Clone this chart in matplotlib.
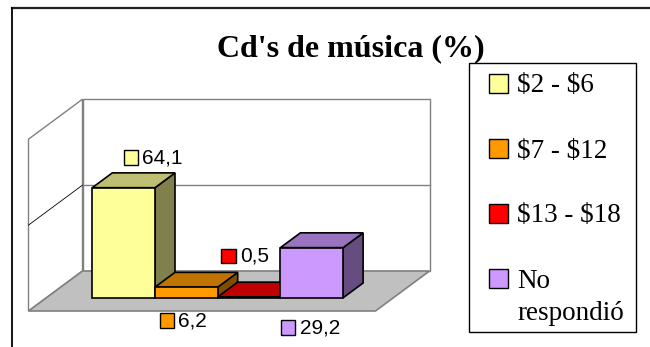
import matplotlib
matplotlib.use("Agg")
import matplotlib.pyplot as plt
from matplotlib.patches import Polygon, Rectangle
from matplotlib.lines import Line2D
from matplotlib.offsetbox import AnnotationBbox, DrawingArea, TextArea, HPacker
from matplotlib.colors import to_rgb

# Cd's de música: precio que pagarían (%)
series = ["$2 - $6", "$7 - $12", "$13 - $18", "No\nrespondió"]
values = [64.1, 6.2, 0.5, 29.2]
value_labels = ["64,1", "6,2", "0,5", "29,2"]
colors = ["#FFFF99", "#FF9900", "#FF0000", "#CC99FF"]
gridlines = [50]
y_max = 100

W_PX, H_PX, DPI = 650, 347, 100

# oblique 3d look: pixels per bar width / per percent, floor depth
PX_X = 62.7
PX_Y = 1.718
GAP = 46 / PX_X
FLOOR_W = 347 / PX_X
DX = 54 / PX_X
DY = 40 / PX_Y
F0, F1 = 0.33, 0.70

# label offsets from the bar top (pixels, right / down)
label_offsets = [(29.5, -30), (-3, 33.4), (-3.7, -41), (-1.4, 80)]


def fx(px):
    return px / W_PX


def fy(py):
    return 1 - py / H_PX


def shade(c, k):
    r, g, b = to_rgb(c)
    return (r * k, g * k, b * k)


fig = plt.figure(figsize=(W_PX / DPI, H_PX / DPI), dpi=DPI)
fig.patch.set_facecolor("white")

# outer chart frame (cut at right and bottom)
fig.add_artist(Line2D([fx(11.5), 1], [fy(8), fy(8)], color="#222222", lw=1.6, transform=fig.transFigure))
fig.add_artist(Line2D([fx(11.5), fx(11.5)], [0, fy(8)], color="black", lw=1.3, transform=fig.transFigure))

ax = fig.add_axes([fx(28.5), fy(311), (FLOOR_W + DX) * PX_X / W_PX, (y_max + DY) * PX_Y / H_PX])
ax.set_xlim(0, FLOOR_W + DX)
ax.set_ylim(0, y_max + DY)
ax.axis("off")

wall_ec = "#808080"
# back wall and side wall
ax.add_patch(Rectangle((DX, DY), FLOOR_W, y_max, fc="white", ec=wall_ec, lw=1.0,
                       zorder=1, clip_on=False))
ax.add_patch(Polygon([(0, 0), (DX, DY), (DX, DY + y_max), (0, y_max)], closed=True,
                     fc="white", ec=wall_ec, lw=1.0, zorder=1, clip_on=False))
for g in gridlines:
    ax.plot([DX, DX + FLOOR_W], [DY + g, DY + g], color=wall_ec, lw=1.0, zorder=2, clip_on=False)
    ax.plot([0, DX], [g, DY + g], color="black", lw=0.6, zorder=2, clip_on=False)
# floor
ax.add_patch(Polygon([(0, 0), (FLOOR_W, 0), (FLOOR_W + DX, DY), (DX, DY)], closed=True,
                     fc="#C0C0C0", ec=wall_ec, lw=1.2, zorder=3, clip_on=False))

ddx = (F1 - F0) * DX
ddy = (F1 - F0) * DY
for i, (v, c, lab, off) in enumerate(zip(values, colors, value_labels, label_offsets)):
    x0 = GAP + i + F0 * DX
    y0 = F0 * DY
    z = 4 + i
    side = [(x0 + 1, y0), (x0 + 1 + ddx, y0 + ddy), (x0 + 1 + ddx, y0 + v + ddy), (x0 + 1, y0 + v)]
    top = [(x0, y0 + v), (x0 + 1, y0 + v), (x0 + 1 + ddx, y0 + v + ddy), (x0 + ddx, y0 + v + ddy)]
    front = [(x0, y0), (x0 + 1, y0), (x0 + 1, y0 + v), (x0, y0 + v)]
    ax.add_patch(Polygon(side, closed=True, fc=shade(c, 0.5), ec="black", lw=1.2, zorder=z))
    ax.add_patch(Polygon(top, closed=True, fc=shade(c, 0.75), ec="black", lw=1.2, zorder=z))
    ax.add_patch(Polygon(front, closed=True, fc=c, ec="black", lw=1.2, zorder=z))

    # value label with its colour key
    da = DrawingArea(10.5, 10.5, 0, 0)
    da.add_artist(Rectangle((0, 0), 10.5, 10.5, fc=c, ec="black", lw=1.0))
    ta = TextArea(lab, textprops=dict(fontsize=15, family="Liberation Sans", color="black"))
    box = HPacker(children=[da, ta], align="center", pad=0, sep=3.0)
    ab = AnnotationBbox(box, (x0 + 0.5, y0 + v), xybox=(off[0] * 0.72, -off[1] * 0.72),
                        xycoords="data", boxcoords="offset points", frameon=False,
                        box_alignment=(0.5, 0.5), annotation_clip=False, zorder=20)
    ax.add_artist(ab)

# title
fig.text(fx(351), fy(49), "Cd's de música (%)", ha="center", va="center",
         fontsize=23, fontweight="bold", family="Liberation Serif")

# legend
fig.add_artist(Rectangle((fx(469), fy(332)), 167 / W_PX, 269 / H_PX, transform=fig.transFigure,
                         fc="white", ec="black", lw=1.0))
for i, (name, c) in enumerate(zip(series, colors)):
    cy = 83 + 65 * i
    fig.add_artist(Rectangle((fx(489), fy(cy + 9.5)), 19 / W_PX, 19 / H_PX, transform=fig.transFigure,
                             fc=c, ec="black", lw=1.0))
    for k, line in enumerate(name.split("\n")):
        fig.text(fx(517), fy(cy + 9.5 + 32 * k), line, ha="left", va="baseline",
                 fontsize=19.5, family="Liberation Serif", parse_math=False)

fig.savefig("out.png", dpi=DPI)
